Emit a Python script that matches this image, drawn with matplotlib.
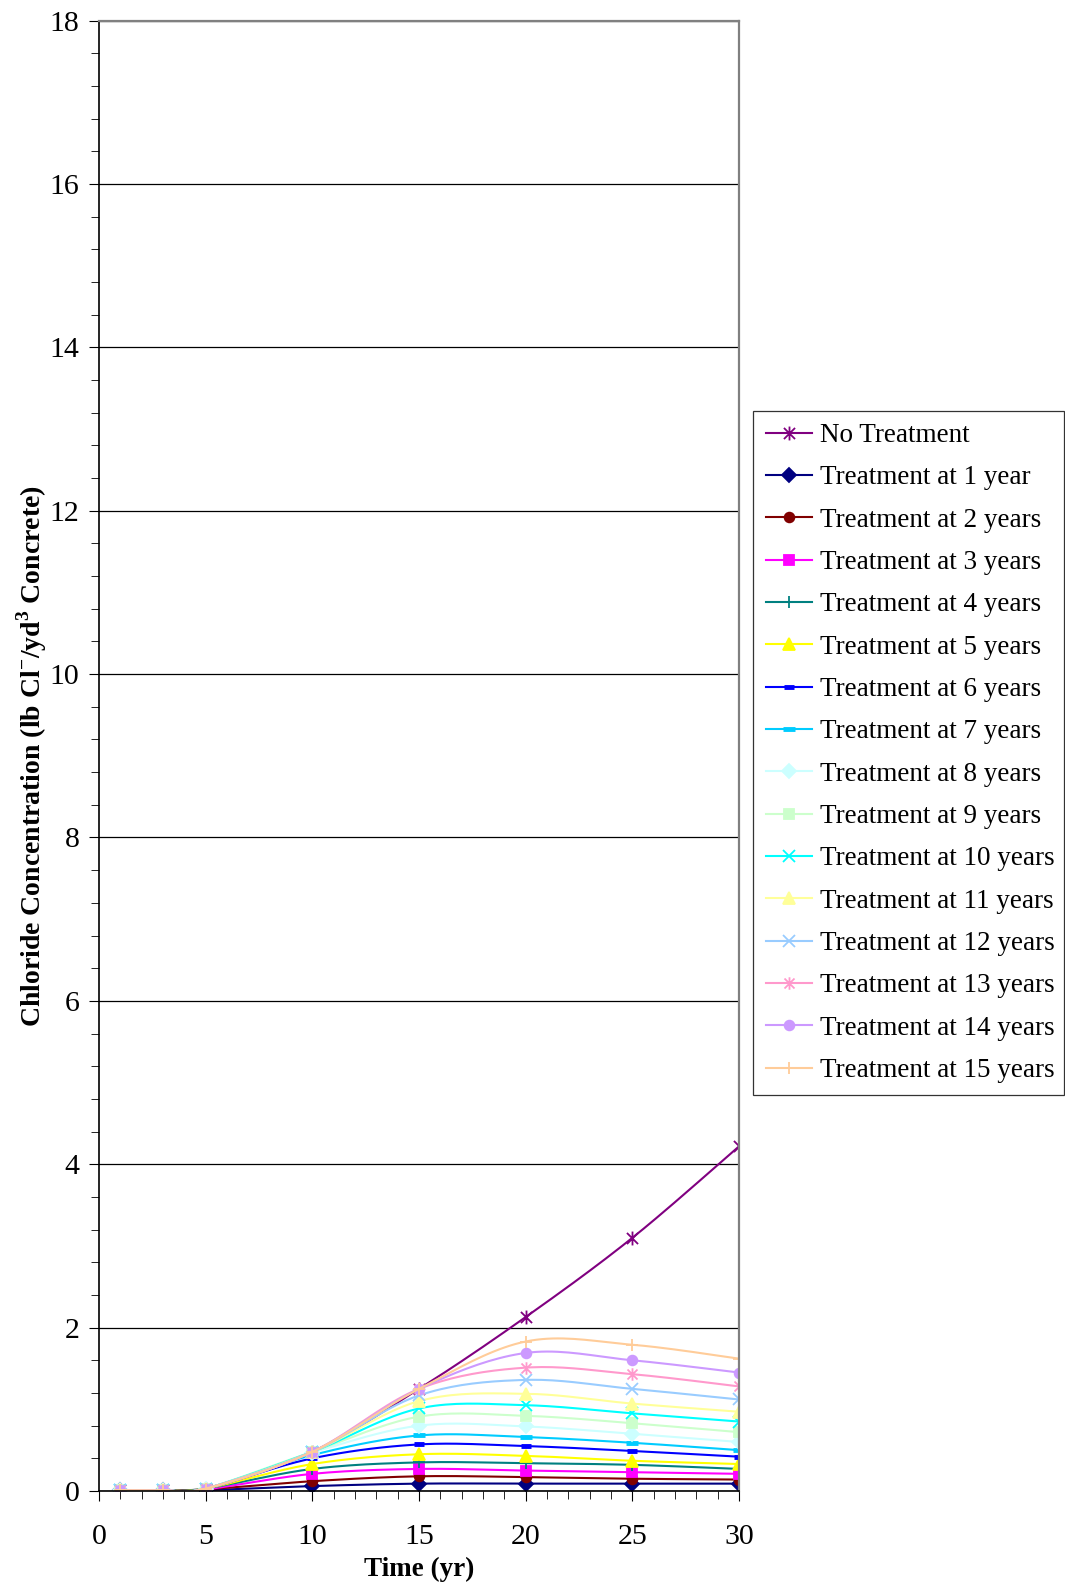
import numpy as np
import matplotlib
matplotlib.use("Agg")
import matplotlib.pyplot as plt
from matplotlib.ticker import MultipleLocator
from matplotlib.path import Path

plt.rcParams['font.family'] = ['Liberation Serif', 'DejaVu Serif']
plt.rcParams['mathtext.fontset'] = 'custom'
plt.rcParams['mathtext.rm'] = 'Liberation Serif:bold'
plt.rcParams['mathtext.bf'] = 'Liberation Serif:bold'

# time of each sample (yr)
years = [1, 3, 5, 10, 15, 20, 25, 30]

no_treatment = [0.01, 0.01, 0.03, 0.48, 1.25, 2.13, 3.10, 4.22]
treat_1 = [0.01, 0.01, 0.01, 0.06, 0.09, 0.09, 0.09, 0.09]
treat_2 = [0.01, 0.01, 0.02, 0.12, 0.18, 0.17, 0.15, 0.14]
treat_3 = [0.01, 0.01, 0.02, 0.21, 0.27, 0.25, 0.23, 0.21]
treat_4 = [0.01, 0.01, 0.03, 0.27, 0.35, 0.34, 0.32, 0.27]
treat_5 = [0.01, 0.01, 0.03, 0.33, 0.45, 0.43, 0.37, 0.33]
treat_6 = [0.01, 0.01, 0.03, 0.40, 0.57, 0.55, 0.49, 0.42]
treat_7 = [0.01, 0.01, 0.03, 0.44, 0.68, 0.66, 0.59, 0.50]
treat_8 = [0.01, 0.01, 0.03, 0.47, 0.80, 0.79, 0.70, 0.60]
treat_9 = [0.01, 0.01, 0.03, 0.48, 0.91, 0.92, 0.83, 0.72]
treat_10 = [0.01, 0.01, 0.03, 0.48, 1.01, 1.05, 0.95, 0.85]
treat_11 = [0.01, 0.01, 0.03, 0.48, 1.10, 1.19, 1.07, 0.97]
treat_12 = [0.01, 0.01, 0.03, 0.48, 1.17, 1.36, 1.25, 1.12]
treat_13 = [0.01, 0.01, 0.03, 0.48, 1.25, 1.51, 1.43, 1.28]
treat_14 = [0.01, 0.01, 0.03, 0.48, 1.25, 1.69, 1.60, 1.45]
treat_15 = [0.01, 0.01, 0.03, 0.48, 1.25, 1.83, 1.79, 1.62]

labels = ["No Treatment", "Treatment at 1 year"] + \
    ["Treatment at %d years" % i for i in range(2, 16)]
series = [no_treatment, treat_1, treat_2, treat_3, treat_4, treat_5, treat_6,
          treat_7, treat_8, treat_9, treat_10, treat_11, treat_12, treat_13,
          treat_14, treat_15]
colors = ["#800080", "#000080", "#800000", "#FF00FF", "#008080", "#FFFF00",
          "#0000FF", "#00CCFF", "#CCFFFF", "#CCFFCC", "#00FFFF", "#FFFF99",
          "#99CCFF", "#FF99CC", "#CC99FF", "#FFCC99"]

# asterisk marker: an x with a vertical bar through it
star = Path([(-1, -1), (1, 1), (-1, 1), (1, -1), (0, -1.25), (0, 1.25)],
            [Path.MOVETO, Path.LINETO, Path.MOVETO, Path.LINETO,
             Path.MOVETO, Path.LINETO])
markers = [star, "D", "o", "s", "+", "^", "_", "_", "D", "s", "x", "^",
           "x", star, "o", "+"]
sizes = [10, 7, 7, 7, 8, 8, 7, 9, 7, 7, 8, 8, 8, 9, 7, 9]


def smooth(xs, ys, n=20):
    # spreadsheet-style smoothed line: cubic bezier through each point
    xs = np.asarray(xs, float)
    ys = np.asarray(ys, float)
    px, py, idx = [], [], []
    m = len(xs)
    for i in range(m - 1):
        x0, y0 = (xs[i - 1], ys[i - 1]) if i > 0 else (xs[i], ys[i])
        x3, y3 = (xs[i + 2], ys[i + 2]) if i + 2 < m else (xs[i + 1], ys[i + 1])
        c1x = xs[i] + (xs[i + 1] - x0) / 6
        c1y = ys[i] + (ys[i + 1] - y0) / 6
        c2x = xs[i + 1] - (x3 - xs[i]) / 6
        c2y = ys[i + 1] - (y3 - ys[i]) / 6
        t = np.linspace(0, 1, n, endpoint=False)
        bx = (1-t)**3*xs[i] + 3*(1-t)**2*t*c1x + 3*(1-t)*t**2*c2x + t**3*xs[i+1]
        by = (1-t)**3*ys[i] + 3*(1-t)**2*t*c1y + 3*(1-t)*t**2*c2y + t**3*ys[i+1]
        idx.append(len(px))
        px.extend(bx)
        py.extend(by)
    idx.append(len(px))
    px.append(xs[-1])
    py.append(ys[-1])
    return px, py, idx


fig = plt.figure(figsize=(10.65, 15.87), dpi=100)
ax = fig.add_axes([0.093, 0.0605, 0.601, 0.9265])

for ys, lab, col, mk, ms in zip(series, labels, colors, markers, sizes):
    sx, sy, idx = smooth(years, ys)
    mew = 1.3
    if mk == "_":
        mew = 3.5
    ax.plot(sx, sy, color=col, lw=1.5, marker=mk, markevery=idx, ms=ms,
            mew=mew, mec=col, mfc=col, label=lab)

ax.set_xlim(0, 30)
ax.set_ylim(0, 18)
ax.xaxis.set_major_locator(MultipleLocator(5))
ax.xaxis.set_minor_locator(MultipleLocator(1))
ax.yaxis.set_major_locator(MultipleLocator(2))
ax.yaxis.set_minor_locator(MultipleLocator(0.4))
ax.yaxis.grid(True, which='major', color='black', lw=0.9)
ax.set_axisbelow(True)

ax.tick_params(axis='both', which='both', direction='out', labelsize=21.5,
               top=False, right=False)
ax.tick_params(axis='y', which='major', length=7, pad=7)
ax.tick_params(axis='y', which='minor', length=6)
ax.tick_params(axis='x', which='major', length=7, pad=17)
ax.tick_params(axis='x', which='minor', length=6)

for s in ['top', 'right']:
    ax.spines[s].set_color('#808080')
    ax.spines[s].set_linewidth(1.6)
for s in ['left', 'bottom']:
    ax.spines[s].set_color('black')
    ax.spines[s].set_linewidth(1.2)

ax.set_xlabel("Time (yr)", fontsize=19.5, fontweight='bold', labelpad=5)
ax.set_ylabel(r"Chloride Concentration (lb Cl$^{-}$/yd$^{3}$ Concrete)",
              fontsize=20, fontweight='bold', labelpad=0.5)

leg = fig.legend(loc='center', bbox_to_anchor=(0.7075, 0.3125, 0.2915, 0.426),
                 mode='expand', borderaxespad=0, fontsize=19.5, frameon=True,
                 fancybox=False, edgecolor='black', handlelength=1.7,
                 labelspacing=0.64, borderpad=0.45, handletextpad=0.3)
leg.get_frame().set_linewidth(0.9)

fig.savefig("out.png", dpi=100)
